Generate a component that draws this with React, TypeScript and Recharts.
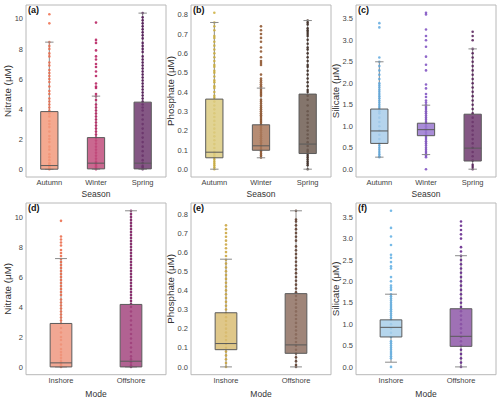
import { ScatterChart, Scatter, XAxis, YAxis, ReferenceArea, ReferenceLine } from 'recharts';

const FONT = '"Liberation Sans", Arial, sans-serif';

const seasons = ['Autumn', 'Winter', 'Spring'];
const modes = ['Inshore', 'Offshore'];

// box stats: [low whisker, q1, median, q3, high whisker]
const nitrateSeasonBox = [[0, 0, 0.24, 3.83, 8.45], [0, 0.02, 0.4, 2.1, 4.86], [0, 0.02, 0.4, 4.46, 10.38]];
const phosphateSeasonBox = [[0, 0.059, 0.088, 0.363, 0.76], [0.059, 0.098, 0.121, 0.23, 0.42], [0, 0.081, 0.13, 0.389, 0.77]];
const silicateSeasonBox = [[0.28, 0.6, 0.89, 1.4, 2.5], [0.34, 0.78, 0.92, 1.07, 1.49], [0, 0.19, 0.49, 1.28, 2.8]];
const nitrateModeBox = [[0, 0, 0.27, 2.9, 7.23], [0, 0, 0.38, 4.17, 10.42]];
const phosphateModeBox = [[0, 0.09, 0.122, 0.283, 0.563], [0, 0.071, 0.115, 0.383, 0.816]];
const silicateModeBox = [[0.11, 0.7, 0.925, 1.1, 1.7], [0, 0.48, 0.715, 1.36, 2.6]];

// individual samples
const nitrateAutumn = [10.3, 9.7, 8.45, 8.2, 8.0, 7.7, 7.5, 7.1, 6.9, 6.6, 6.4, 6.2, 6.0, 5.8, 5.5, 5.2, 5.0, 4.7, 4.5, 4.3, 4.1, 3.9, 3.7, 3.5, 3.2, 3.0, 2.8, 2.5, 2.2, 2.0, 1.8, 1.5, 1.3, 1.0, 0.8, 0.6, 0.4, 0.3, 0.2, 0.1, 0.05, 0];
const nitrateWinter = [9.75, 8.6, 8.4, 7.9, 7.5, 7.3, 7.0, 6.8, 6.5, 6.2, 5.7, 5.5, 5.4, 5.0, 4.85, 4.6, 4.3, 4.1, 3.9, 3.7, 3.5, 3.3, 3.1, 2.9, 2.7, 2.5, 2.3, 2.1, 1.9, 1.7, 1.5, 1.3, 1.1, 0.9, 0.7, 0.5, 0.4, 0.3, 0.2, 0.1, 0];
const nitrateSpring = [10.38, 10.1, 9.9, 9.7, 9.5, 9.3, 9.1, 8.9, 8.7, 8.4, 8.2, 8.0, 7.8, 7.5, 7.3, 7.1, 6.9, 6.7, 6.5, 6.3, 6.1, 5.9, 5.7, 5.5, 5.3, 5.1, 4.9, 4.7, 4.5, 4.3, 4.1, 3.9, 3.6, 3.3, 3.0, 2.7, 2.4, 2.1, 1.8, 1.5, 1.2, 0.9, 0.6, 0.4, 0.2, 0.1, 0];

const phosphateAutumn = [0.81, 0.76, 0.74, 0.72, 0.69, 0.68, 0.66, 0.64, 0.62, 0.6, 0.58, 0.56, 0.54, 0.53, 0.51, 0.5, 0.48, 0.46, 0.45, 0.43, 0.42, 0.4, 0.38, 0.37, 0.35, 0.33, 0.31, 0.29, 0.27, 0.25, 0.23, 0.21, 0.19, 0.17, 0.15, 0.13, 0.11, 0.09, 0.08, 0.07, 0.06, 0.05, 0.04, 0.03, 0.02, 0.01, 0];
const phosphateWinter = [0.74, 0.72, 0.7, 0.68, 0.66, 0.63, 0.61, 0.58, 0.56, 0.55, 0.54, 0.49, 0.47, 0.46, 0.45, 0.44, 0.43, 0.42, 0.41, 0.4, 0.39, 0.38, 0.36, 0.35, 0.34, 0.33, 0.32, 0.31, 0.3, 0.29, 0.28, 0.27, 0.26, 0.25, 0.24, 0.23, 0.22, 0.21, 0.2, 0.19, 0.18, 0.17, 0.16, 0.15, 0.14, 0.13, 0.12, 0.11, 0.1, 0.09, 0.08, 0.07, 0.06];
const phosphateSpring = [0.77, 0.76, 0.75, 0.73, 0.72, 0.71, 0.7, 0.69, 0.67, 0.65, 0.63, 0.62, 0.6, 0.58, 0.56, 0.54, 0.53, 0.51, 0.49, 0.47, 0.45, 0.43, 0.41, 0.4, 0.38, 0.36, 0.33, 0.3, 0.28, 0.26, 0.24, 0.22, 0.2, 0.18, 0.16, 0.14, 0.12, 0.1, 0.09, 0.08, 0.07, 0.06, 0.05, 0.04, 0.03, 0.02, 0];

const silicateAutumn = [3.4, 3.3, 2.6, 2.5, 2.4, 2.3, 2.2, 2.1, 2.0, 1.95, 1.9, 1.85, 1.8, 1.75, 1.7, 1.65, 1.6, 1.55, 1.5, 1.45, 1.4, 1.35, 1.3, 1.2, 1.1, 1.0, 0.9, 0.8, 0.7, 0.6, 0.55, 0.5, 0.45, 0.4, 0.35, 0.3, 0.28];
const silicateWinter = [3.64, 3.6, 3.25, 3.1, 3.0, 2.85, 2.62, 2.43, 2.3, 1.97, 1.88, 1.75, 1.68, 1.6, 1.55, 1.5, 1.45, 1.4, 1.35, 1.3, 1.25, 1.2, 1.15, 1.1, 1.05, 1.0, 0.95, 0.9, 0.85, 0.8, 0.75, 0.7, 0.65, 0.6, 0.55, 0.5, 0.45, 0.4, 0.35, 0.32, 0.28, 0];
const silicateSpring = [3.2, 3.1, 3.0, 2.8, 2.7, 2.6, 2.5, 2.4, 2.3, 2.2, 2.1, 2.0, 1.9, 1.8, 1.7, 1.6, 1.5, 1.4, 1.3, 1.2, 1.1, 1.0, 0.9, 0.8, 0.7, 0.6, 0.5, 0.4, 0.3, 0.2, 0.1, 0.05, 0];

const nitrateInshore = [9.75, 8.7, 8.5, 8.3, 8.1, 7.8, 7.6, 7.4, 7.2, 7.0, 6.8, 6.6, 6.4, 6.2, 6.0, 5.8, 5.6, 5.4, 5.2, 5.0, 4.8, 4.5, 4.3, 4.1, 3.9, 3.7, 3.5, 3.3, 3.1, 2.9, 2.6, 2.3, 2.0, 1.8, 1.5, 1.2, 1.0, 0.8, 0.6, 0.4, 0.3, 0.2, 0.1, 0];
const nitrateOffshore = [10.42, 10.2, 10.0, 9.8, 9.6, 9.4, 9.2, 9.0, 8.8, 8.6, 8.4, 8.2, 8.0, 7.8, 7.6, 7.4, 7.2, 7.0, 6.8, 6.6, 6.4, 6.2, 6.0, 5.8, 5.6, 5.4, 5.2, 5.0, 4.8, 4.6, 4.4, 4.2, 4.0, 3.7, 3.4, 3.1, 2.8, 2.5, 2.2, 1.9, 1.6, 1.3, 1.0, 0.7, 0.5, 0.3, 0.1, 0];

const phosphateInshore = [0.74, 0.72, 0.7, 0.68, 0.66, 0.64, 0.62, 0.6, 0.58, 0.56, 0.54, 0.52, 0.5, 0.48, 0.46, 0.44, 0.42, 0.4, 0.38, 0.36, 0.34, 0.32, 0.3, 0.28, 0.26, 0.24, 0.22, 0.2, 0.18, 0.16, 0.14, 0.12, 0.1, 0.08, 0.06, 0.04, 0.02, 0];
const phosphateOffshore = [0.816, 0.77, 0.76, 0.74, 0.72, 0.7, 0.68, 0.66, 0.63, 0.61, 0.59, 0.57, 0.55, 0.53, 0.51, 0.49, 0.47, 0.45, 0.43, 0.41, 0.39, 0.37, 0.35, 0.33, 0.31, 0.29, 0.27, 0.25, 0.23, 0.21, 0.19, 0.17, 0.15, 0.13, 0.11, 0.09, 0.07, 0.05, 0.03, 0.01, 0];

const silicateInshore = [3.65, 3.25, 3.05, 2.85, 2.62, 2.55, 2.45, 2.35, 2.3, 2.1, 2.0, 1.9, 1.85, 1.8, 1.7, 1.65, 1.6, 1.55, 1.5, 1.45, 1.4, 1.35, 1.3, 1.25, 1.2, 1.15, 1.1, 1.0, 0.9, 0.8, 0.7, 0.6, 0.55, 0.5, 0.45, 0.4, 0.35, 0.3, 0.25, 0.2, 0];
const silicateOffshore = [3.4, 3.3, 3.2, 3.1, 3.0, 2.8, 2.7, 2.6, 2.5, 2.4, 2.3, 2.2, 2.1, 2.0, 1.9, 1.8, 1.7, 1.6, 1.5, 1.4, 1.3, 1.2, 1.1, 1.0, 0.9, 0.8, 0.7, 0.6, 0.5, 0.4, 0.3, 0.2, 0.1, 0];

const nitrateTicks = [0, 2, 4, 6, 8, 10];
const phosphateTicks = [0, 0.1, 0.2, 0.3, 0.4, 0.5, 0.6, 0.7, 0.8];
const silicateTicks = [0, 0.5, 1, 1.5, 2, 2.5, 3, 3.5];

function Panel({ tag, yTitle, xTitle, cats, boxes, points, ptColors, boxColors, yDomain, yTicks, decimals, boxW, capW, left, top, height, plotH, yTitleOffset }: any) {
  const n = cats.length;
  const tickStyle = { fill: '#444', fontSize: 7.5, fontFamily: FONT };
  return (
    <div style={{ position: 'absolute', left, top }}>
      <ScatterChart width={168} height={height} margin={{ top: 5, right: 2, bottom: 0, left: 0 }}>
        <XAxis
          type="number"
          dataKey="x"
          domain={[-0.5, n - 0.5]}
          allowDataOverflow
          ticks={cats.map((_: string, i: number) => i)}
          tickFormatter={(v) => cats[v]}
          interval={0}
          tickLine={false}
          axisLine={false}
          tickSize={0}
          tickMargin={3}
          height={height - 5 - plotH}
          tick={tickStyle}
          label={{ value: xTitle, position: 'insideBottom', offset: 1, fill: '#333', fontSize: 8.5, fontFamily: FONT }}
        />
        <YAxis
          type="number"
          dataKey="y"
          domain={yDomain}
          allowDataOverflow
          ticks={yTicks}
          interval={0}
          tickFormatter={(v) => v.toFixed(decimals)}
          tickLine={false}
          axisLine={false}
          tickSize={0}
          tickMargin={3}
          width={26}
          tick={tickStyle}
          label={{ value: yTitle, angle: -90, position: 'insideLeft', offset: yTitleOffset, fill: '#333', fontSize: 9.8, fontFamily: FONT, style: { textAnchor: 'middle' } }}
        />
        {boxes.map((b: number[], i: number) => (
          <ReferenceLine key={'wl' + i} segment={[{ x: i, y: b[0] }, { x: i, y: b[1] }]} stroke="#8a8a8a" strokeWidth={1} zIndex={500} />
        ))}
        {boxes.map((b: number[], i: number) => (
          <ReferenceLine key={'wh' + i} segment={[{ x: i, y: b[3] }, { x: i, y: b[4] }]} stroke="#8a8a8a" strokeWidth={1} zIndex={500} />
        ))}
        {points.map((vals: number[], i: number) => (
          <Scatter
            key={'s' + i}
            data={vals.map((v) => ({ x: i, y: v }))}
            isAnimationActive={false}
            shape={(p: any) => <circle cx={p.cx} cy={p.cy} r={1.3} fill={ptColors[i]} fillOpacity={0.85} />}
          />
        ))}
        {boxes.map((b: number[], i: number) => (
          <ReferenceLine key={'cl' + i} segment={[{ x: i - capW / 2, y: b[0] }, { x: i + capW / 2, y: b[0] }]} stroke="#8a8a8a" strokeWidth={1} zIndex={650} />
        ))}
        {boxes.map((b: number[], i: number) => (
          <ReferenceLine key={'ch' + i} segment={[{ x: i - capW / 2, y: b[4] }, { x: i + capW / 2, y: b[4] }]} stroke="#8a8a8a" strokeWidth={1} zIndex={650} />
        ))}
        {boxes.map((b: number[], i: number) => (
          <ReferenceArea key={'b' + i} x1={i - boxW / 2} x2={i + boxW / 2} y1={b[1]} y2={b[3]} fill={boxColors[i]} fillOpacity={0.85} stroke="#5a5a5a" strokeWidth={1} zIndex={700} />
        ))}
        {boxes.map((b: number[], i: number) => (
          <ReferenceLine key={'m' + i} segment={[{ x: i - boxW / 2, y: b[2] }, { x: i + boxW / 2, y: b[2] }]} stroke="#5a5a5a" strokeWidth={1} zIndex={710} />
        ))}
        <ReferenceArea
          x1={-0.5}
          x2={n - 0.5}
          y1={yDomain[0]}
          y2={yDomain[1]}
          fill="none"
          stroke="#b8b8b8"
          strokeWidth={1}
          zIndex={720}
          label={{ value: tag, position: 'insideTopLeft', offset: 2, fill: '#111', fontSize: 9, fontWeight: 'bold', fontFamily: FONT }}
        />
      </ScatterChart>
    </div>
  );
}

const topRow = { xTitle: 'Season', cats: seasons, boxW: 0.37, capW: 0.18, top: 0, height: 198, plotH: 172 };
const bottomRow = { xTitle: 'Mode', cats: modes, boxW: 0.31, capW: 0.17, top: 198, height: 200, plotH: 171.7 };

export default function App() {
  return (
    <div style={{ position: 'absolute', left: 0, top: 0, width: 500, height: 398, background: '#fff', fontFamily: FONT }}>
      <Panel {...topRow} left={0} tag="(a)" yTitle="Nitrate (μM)" boxes={nitrateSeasonBox}
        points={[nitrateAutumn, nitrateWinter, nitrateSpring]}
        ptColors={['#EF6C4B', '#B5195B', '#4E1152']} boxColors={['#F29A7C', '#C14D7C', '#6E3A6F']}
        yDomain={[-0.52, 10.92]} yTicks={nitrateTicks} decimals={0} yTitleOffset={8} />
      <Panel {...topRow} left={165} tag="(b)" yTitle="Phosphate (μM)" boxes={phosphateSeasonBox}
        points={[phosphateAutumn, phosphateWinter, phosphateSpring]}
        ptColors={['#CDAE3C', '#8B5028', '#3A2820']} boxColors={['#DCCB80', '#A9785A', '#6F5D52']}
        yDomain={[-0.0405, 0.8505]} yTicks={phosphateTicks} decimals={1} yTitleOffset={6} />
      <Panel {...topRow} left={330} tag="(c)" yTitle="Silicate (μM)" boxes={silicateSeasonBox}
        points={[silicateAutumn, silicateWinter, silicateSpring]}
        ptColors={['#5EA8DE', '#7B4CC0', '#521A55']} boxColors={['#A8CDEA', '#9A78D0', '#6E3A6E']}
        yDomain={[-0.182, 3.822]} yTicks={silicateTicks} decimals={1} yTitleOffset={6} />
      <Panel {...bottomRow} left={0} tag="(d)" yTitle="Nitrate (μM)" boxes={nitrateModeBox}
        points={[nitrateInshore, nitrateOffshore]}
        ptColors={['#EA6644', '#7F1660']} boxColors={['#EE9880', '#A3477F']}
        yDomain={[-0.52, 10.94]} yTicks={nitrateTicks} decimals={0} yTitleOffset={8} />
      <Panel {...bottomRow} left={165} tag="(e)" yTitle="Phosphate (μM)" boxes={phosphateModeBox}
        points={[phosphateInshore, phosphateOffshore]}
        ptColors={['#C9A238', '#5C3A2A']} boxColors={['#D9BD74', '#8E7062']}
        yDomain={[-0.0408, 0.8568]} yTicks={phosphateTicks} decimals={1} yTitleOffset={6} />
      <Panel {...bottomRow} left={330} tag="(f)" yTitle="Silicate (μM)" boxes={silicateModeBox}
        points={[silicateInshore, silicateOffshore]}
        ptColors={['#5FAEE3', '#5F1E87']} boxColors={['#A8CFEA', '#8E58A8']}
        yDomain={[-0.1825, 3.8325]} yTicks={silicateTicks} decimals={1} yTitleOffset={6} />
    </div>
  );
}
